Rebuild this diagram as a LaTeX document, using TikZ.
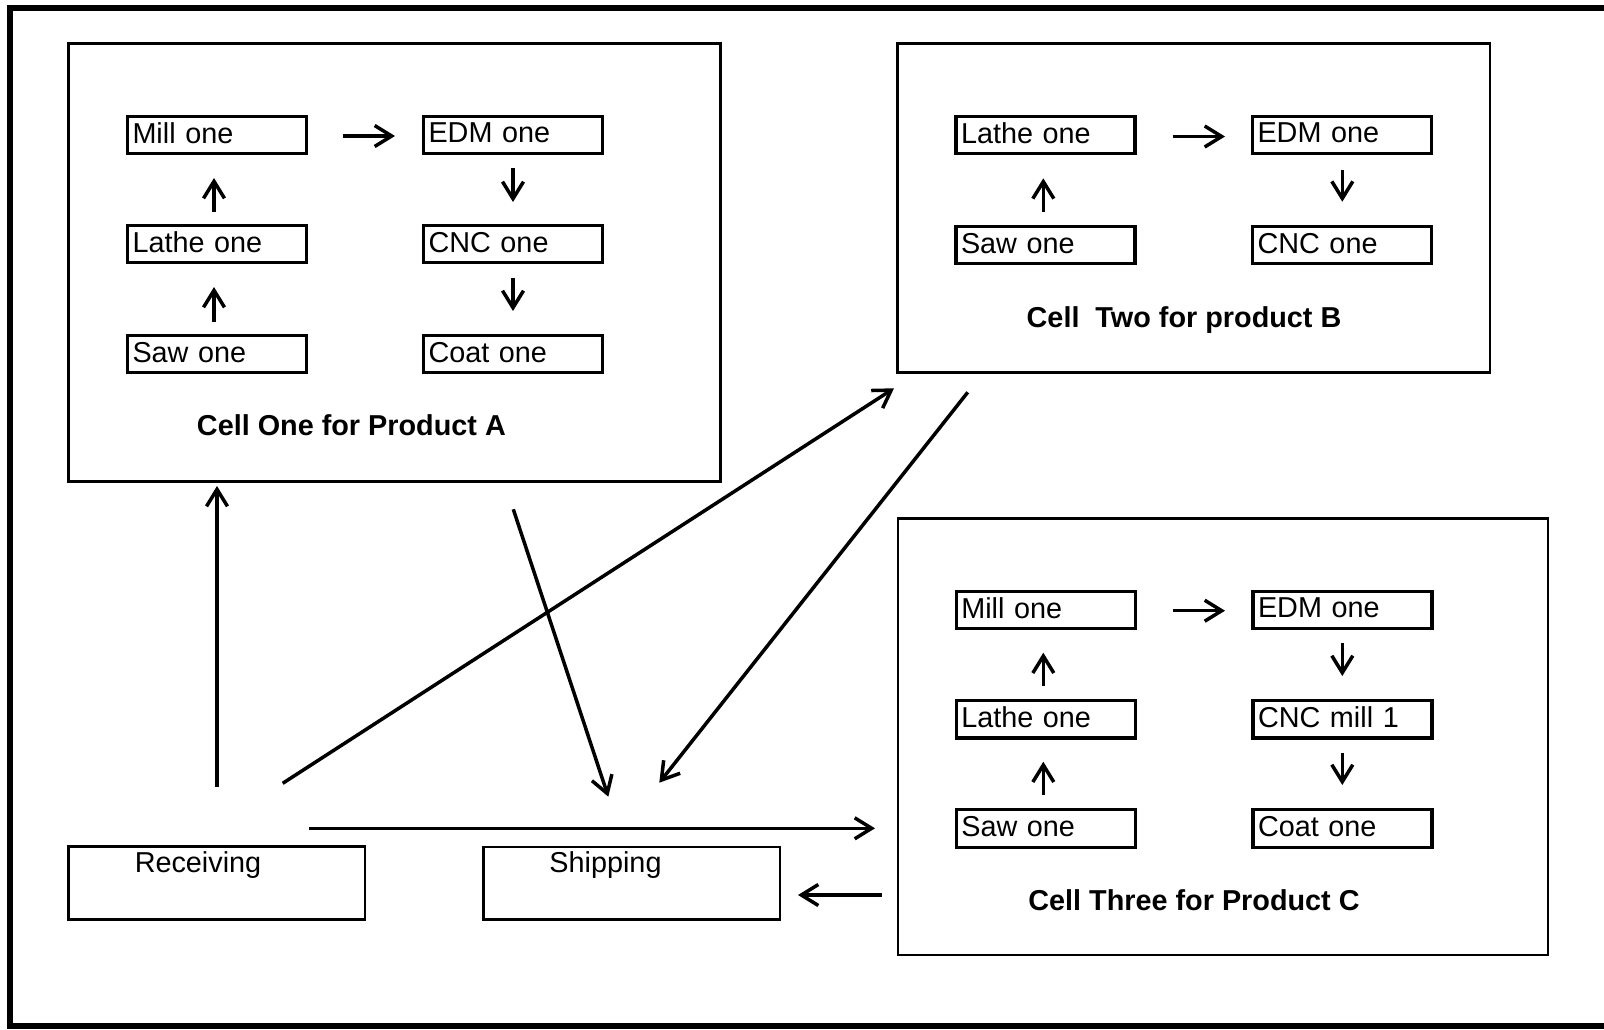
\documentclass[tikz,border=0pt]{standalone}
\usepackage{fontspec}
\setmainfont{Liberation Sans}
\usetikzlibrary{arrows.meta}
\begin{document}
\begin{tikzpicture}[x=0.5pt,y=-0.5pt,
  every node/.style={font=\fontsize{14.4pt}{17pt}\selectfont},
  cellbox/.style={draw, line width=1.4pt, rectangle, inner sep=0pt},
  stationbox/.style={draw, line width=1.6pt, rectangle, minimum width=89.5pt,
    minimum height=18.75pt, text width=84.5pt, inner xsep=2.5pt, inner ysep=0pt,
    text depth=2pt, align=left},
  dockbox/.style={draw, line width=1.4pt, rectangle, minimum width=148.35pt,
    minimum height=36.3pt, inner sep=0pt},
  celltitle/.style={anchor=base, font=\fontsize{14.4pt}{17pt}\selectfont\bfseries},
  docklabel/.style={anchor=base},
  flow/.style={line width=1.75pt, -{Straight Barb[length=8.5pt,width=10.5pt]}},
]
\useasboundingbox (0,0) rectangle (1604,1029);

% outer frame (open to the right)
\draw[line width=2.9pt] (1604,8) -- (10,8) -- (10,1026) -- (1604,1026);

% cells
\node[cellbox, minimum width=325.95pt, minimum height=219.25pt] (cellA) at (394.25,262.55) {};
\node[cellbox, minimum width=296.25pt, minimum height=164.6pt] (cellB) at (1193.75,207.9) {};
\node[cellbox, minimum width=325pt, minimum height=218.15pt] (cellC) at (1223,736.85) {};

\node[celltitle] (titleA) at (351.4,435) {Cell One for Product A};
\node[celltitle] (titleB) at (1184,327) {Cell\ \ Two for product B};
\node[celltitle] (titleC) at (1194,910) {Cell Three for Product C};

% cell one stations
\node[stationbox] (millA)  at (217,135) {Mill one};
\node[stationbox] (edmA)   at (513,135) {EDM one};
\node[stationbox] (latheA) at (217,244) {Lathe one};
\node[stationbox] (cncA)   at (513,244) {CNC one};
\node[stationbox] (sawA)   at (217,354) {Saw one};
\node[stationbox] (coatA)  at (513,354) {Coat one};

% cell two stations
\node[stationbox] (latheB) at (1045.5,135) {Lathe one};
\node[stationbox] (edmB)   at (1342,135) {EDM one};
\node[stationbox] (sawB)   at (1045.5,245) {Saw one};
\node[stationbox] (cncB)   at (1342,245) {CNC one};

% cell three stations
\node[stationbox] (millC)  at (1045.8,610) {Mill one};
\node[stationbox] (edmC)   at (1342.5,610) {EDM one};
\node[stationbox] (latheC) at (1045.8,719.2) {Lathe one};
\node[stationbox] (cncC)   at (1342.5,719.2) {CNC mill 1};
\node[stationbox] (sawC)   at (1045.8,828.5) {Saw one};
\node[stationbox] (coatC)  at (1342.5,828.5) {Coat one};

% receiving and shipping
\node[dockbox] (recv) at (216.65,883) {};
\node[dockbox] (ship) at (631.65,883.3) {};
\node[docklabel] (recvtxt) at (198,872.5) {Receiving};
\node[docklabel] (shiptxt) at (605.5,872) {Shipping};

% arrow end points inside cell one
\coordinate (a1s) at (343,136);  \coordinate (a1e) at (395,136);
\coordinate (a2s) at (214,212);  \coordinate (a2e) at (214,178);
\coordinate (a3s) at (214,322);  \coordinate (a3e) at (214,287);
\coordinate (a4s) at (513,168);  \coordinate (a4e) at (513,202);
\coordinate (a5s) at (513,278);  \coordinate (a5e) at (513,311);
% inside cell two
\coordinate (b1s) at (1172.5,136.5); \coordinate (b1e) at (1225,136.5);
\coordinate (b2s) at (1043.3,211.7); \coordinate (b2e) at (1043.3,178.3);
\coordinate (b3s) at (1342.3,170);   \coordinate (b3e) at (1342.3,201.7);
% inside cell three
\coordinate (c1s) at (1172.5,610.7); \coordinate (c1e) at (1225,610.7);
\coordinate (c2s) at (1043.3,686);   \coordinate (c2e) at (1043.3,652.7);
\coordinate (c3s) at (1043.3,795);   \coordinate (c3e) at (1043.3,761.7);
\coordinate (c4s) at (1342.3,643.3); \coordinate (c4e) at (1342.3,676);
\coordinate (c5s) at (1342.3,752.7); \coordinate (c5e) at (1342.3,785);
% material flow between areas
\coordinate (r1s) at (217,787);      \coordinate (r1e) at (217,486);
\coordinate (r2s) at (282.7,783.3);  \coordinate (r2e) at (894,388.3);
\coordinate (r3s) at (309.3,828.3);  \coordinate (r3e) at (875,828.3);
\coordinate (s1s) at (513.3,509.3);  \coordinate (s1e) at (608.3,796.7);
\coordinate (s2s) at (967.7,392.3);  \coordinate (s2e) at (659.3,782.7);
\coordinate (s3s) at (881.7,895);    \coordinate (s3e) at (798,895);

\foreach \p in {a1,a2,a3,a4,a5,b1,b2,b3,c1,c2,c3,c4,c5,r1,r2,r3,s1,s2,s3}
  \draw[flow] (\p s) -- (\p e);
\end{tikzpicture}
\end{document}
